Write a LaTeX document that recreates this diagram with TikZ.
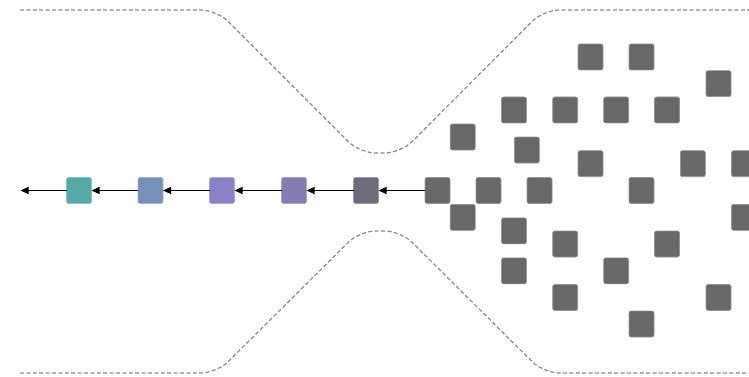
\documentclass[tikz,border=0pt]{standalone}
\usetikzlibrary{arrows.meta}
\definecolor{cteal}{HTML}{55AAA8}
\definecolor{cblue}{HTML}{7590BA}
\definecolor{cpurple}{HTML}{8A82C6}
\definecolor{cpurpletwo}{HTML}{857CB4}
\definecolor{cgraypurple}{HTML}{6E6C7C}
\definecolor{cgray}{HTML}{686868}
\definecolor{cdash}{HTML}{8A8A8A}
\tikzset{
  sq/.style={fill=#1, draw=#1!70!white, line width=0.6pt, rounded corners=2pt,
    minimum width=25pt, minimum height=26pt, inner sep=0pt, outer sep=0pt},
  gsq/.style={sq=cgray},
  funnel/.style={draw=cdash, line width=1.2pt, dash pattern=on 4pt off 2.4pt, rounded corners=16pt},
  flow/.style={draw=black, line width=1pt, -{Triangle[length=8pt,width=7pt]}}
}
\begin{document}
\begin{tikzpicture}[x=1pt,y=-1pt]
\useasboundingbox (0,0) rectangle (749,377);
% funnel outline
\draw[funnel] (20,10) -- (216.7,10) -- (359.7,153) -- (400.7,153) -- (543.5,10) -- (760,10);
\draw[funnel] (20,373) -- (216.7,373) -- (359.7,231) -- (400.7,231) -- (543.5,373) -- (760,373);
% chain
\node[sq=cteal] (c1) at (79,190.5) {};
\node[sq=cblue] (c2) at (150.5,190.5) {};
\node[sq=cpurple] (c3) at (222,190.5) {};
\node[sq=cpurpletwo] (c4) at (294,190.5) {};
\node[sq=cgraypurple] (c5) at (366,190.5) {};
\node[gsq] (c6) at (437.5,190.5) {};
\coordinate (out) at (20.5,190.5);
% cloud of squares
\node[gsq] (g1) at (590.5,57) {};
\node[gsq] (g2) at (641.5,57) {};
\node[gsq] (g3) at (718.5,83.7) {};
\node[gsq] (g4) at (514,110) {};
\node[gsq] (g5) at (565.2,110) {};
\node[gsq] (g6) at (616.2,110) {};
\node[gsq] (g7) at (667,110) {};
\node[gsq] (g8) at (462.7,137) {};
\node[gsq] (g9) at (526.8,150) {};
\node[gsq] (g10) at (590.5,163.7) {};
\node[gsq] (g11) at (692.8,163.7) {};
\node[gsq] (g12) at (744,163.7) {};
\node[gsq] (g13) at (488.5,190.5) {};
\node[gsq] (g14) at (539.5,190.5) {};
\node[gsq] (g15) at (641.5,190.5) {};
\node[gsq] (g16) at (462.7,217.3) {};
\node[gsq] (g17) at (744,217.3) {};
\node[gsq] (g18) at (514,230.8) {};
\node[gsq] (g19) at (565.2,244) {};
\node[gsq] (g20) at (667,244) {};
\node[gsq] (g21) at (514,270.8) {};
\node[gsq] (g22) at (616.2,270.8) {};
\node[gsq] (g23) at (565.2,297.5) {};
\node[gsq] (g24) at (718.5,297.5) {};
\node[gsq] (g25) at (641.5,324) {};
% arrows
\draw[flow] (c6.west) -- (c5.east);
\draw[flow] (c5.west) -- (c4.east);
\draw[flow] (c4.west) -- (c3.east);
\draw[flow] (c3.west) -- (c2.east);
\draw[flow] (c2.west) -- (c1.east);
\draw[flow] (c1.west) -- (out);
\end{tikzpicture}
\end{document}
